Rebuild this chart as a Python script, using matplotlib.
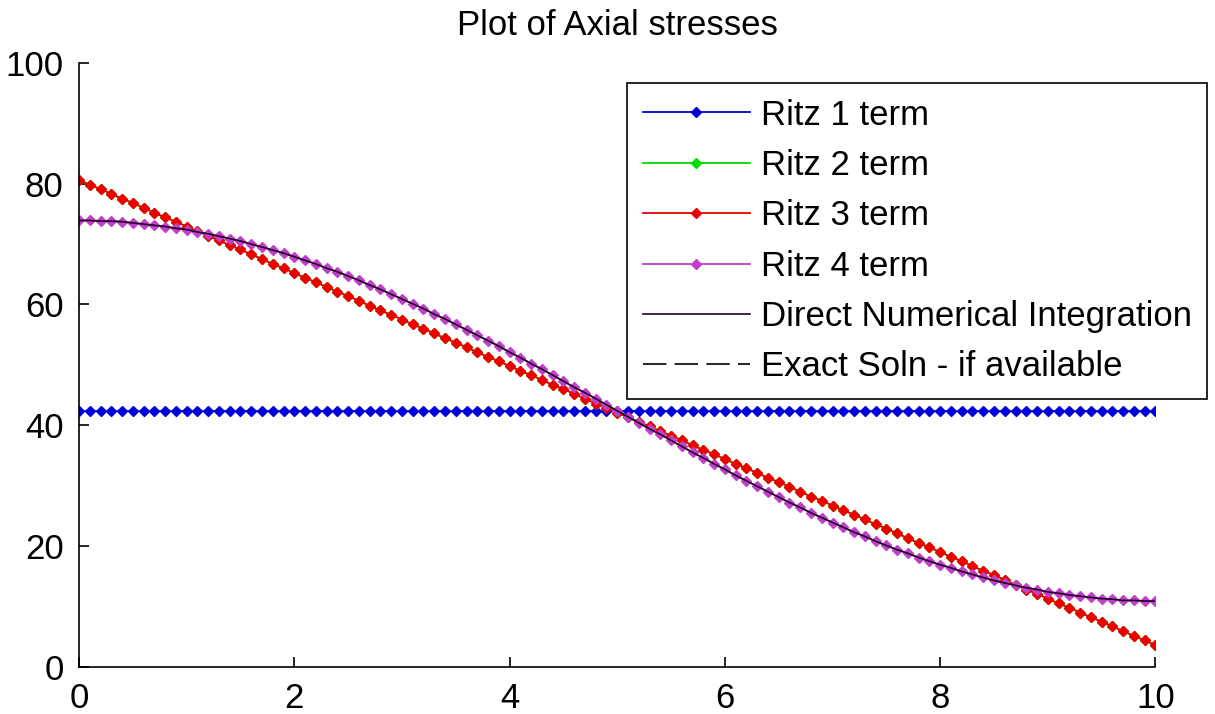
import numpy as np
import matplotlib
matplotlib.use("Agg")
import matplotlib.pyplot as plt

plt.rcParams['font.family'] = ['Liberation Sans', 'DejaVu Sans']

# position along the bar, sampled every 0.1
x = np.linspace(0, 10, 101)

# Ritz 1 term is a constant stress
ritz1_level = 42.4

# Ritz 2 and Ritz 3 term give the same linear stress (green is hidden under red)
ritz3 = [80.6, 79.8, 79.1, 78.3, 77.5, 76.8, 76.0, 75.2, 74.4, 73.7,
         72.9, 72.1, 71.4, 70.6, 69.8, 69.1, 68.3, 67.5, 66.7, 66.0,
         65.2, 64.4, 63.7, 62.9, 62.1, 61.4, 60.6, 59.8, 59.0, 58.3,
         57.5, 56.7, 56.0, 55.2, 54.4, 53.7, 52.9, 52.1, 51.3, 50.6,
         49.8, 49.0, 48.3, 47.5, 46.7, 46.0, 45.2, 44.4, 43.6, 42.9,
         42.1, 41.3, 40.6, 39.8, 39.0, 38.3, 37.5, 36.7, 35.9, 35.2,
         34.4, 33.6, 32.9, 32.1, 31.3, 30.6, 29.8, 29.0, 28.2, 27.5,
         26.7, 25.9, 25.2, 24.4, 23.6, 22.9, 22.1, 21.3, 20.5, 19.8,
         19.0, 18.2, 17.5, 16.7, 15.9, 15.2, 14.4, 13.6, 12.8, 12.1,
         11.3, 10.5, 9.8, 9.0, 8.2, 7.5, 6.7, 5.9, 5.1, 4.4,
         3.6]
ritz2 = list(ritz3)

# Ritz 4 term (direct numerical integration lies on top of it)
ritz4 = [73.9, 73.9, 73.8, 73.8, 73.7, 73.5, 73.3, 73.1, 72.9, 72.6,
         72.4, 72.0, 71.7, 71.3, 70.9, 70.5, 70.0, 69.5, 69.0, 68.5,
         67.9, 67.3, 66.7, 66.0, 65.4, 64.7, 64.0, 63.2, 62.5, 61.7,
         60.9, 60.1, 59.3, 58.4, 57.6, 56.7, 55.8, 54.9, 54.0, 53.1,
         52.1, 51.2, 50.2, 49.3, 48.3, 47.3, 46.3, 45.4, 44.4, 43.4,
         42.4, 41.4, 40.4, 39.4, 38.5, 37.5, 36.5, 35.5, 34.6, 33.6,
         32.7, 31.7, 30.8, 29.9, 29.0, 28.1, 27.2, 26.4, 25.5, 24.7,
         23.9, 23.1, 22.3, 21.6, 20.8, 20.1, 19.4, 18.8, 18.1, 17.5,
         16.9, 16.4, 15.8, 15.3, 14.8, 14.3, 13.9, 13.5, 13.1, 12.8,
         12.4, 12.2, 11.9, 11.7, 11.5, 11.3, 11.2, 11.0, 11.0, 10.9,
         10.9]
direct = list(ritz4)

fig = plt.figure(figsize=(12.15, 7.14), dpi=100)
ax = fig.add_axes([0.065, 0.066, 0.886, 0.846])

ms = 5.5
lw = 1.3
ax.plot(x, np.full(len(x), ritz1_level), '-D', color='#0000d8', lw=lw, ms=ms,
        label='Ritz 1 term')
ax.plot(x, ritz2, '-D', color='#00dd00', lw=lw, ms=ms, label='Ritz 2 term')
ax.plot(x, ritz3, '-D', color='#ee0000', lw=lw, ms=ms, label='Ritz 3 term')
ax.plot(x, ritz4, '-D', color='#c040cc', lw=lw, ms=ms, label='Ritz 4 term')
ax.plot(x, direct, '-', color='#220022', lw=1.2, label='Direct Numerical Integration')
ax.plot([], [], '--', color='black', lw=1.2, dashes=(14, 5),
        label='Exact Soln - if available')

ax.set_xlim(0, 10)
ax.set_ylim(0, 100)
ax.set_xticks([0, 2, 4, 6, 8, 10])
ax.set_yticks([0, 20, 40, 60, 80, 100])
for s in ['top', 'right']:
    ax.spines[s].set_visible(False)
for s in ['left', 'bottom']:
    ax.spines[s].set_linewidth(1.2)
ax.tick_params(direction='in', length=7.5, width=1.2, labelsize=25, pad=11)

ax.set_title('Plot of Axial stresses', fontsize=25, pad=20)

leg = ax.legend(loc='upper left', bbox_to_anchor=(627 / 1215, 1 - 83 / 714),
                bbox_transform=fig.transFigure, fontsize=25, frameon=True,
                fancybox=False, framealpha=1, edgecolor='black',
                handlelength=3.1, handletextpad=0.3, labelspacing=0.5,
                borderpad=0.45, borderaxespad=0)
leg.get_frame().set_linewidth(1.2)

fig.savefig('out.png', dpi=100)
